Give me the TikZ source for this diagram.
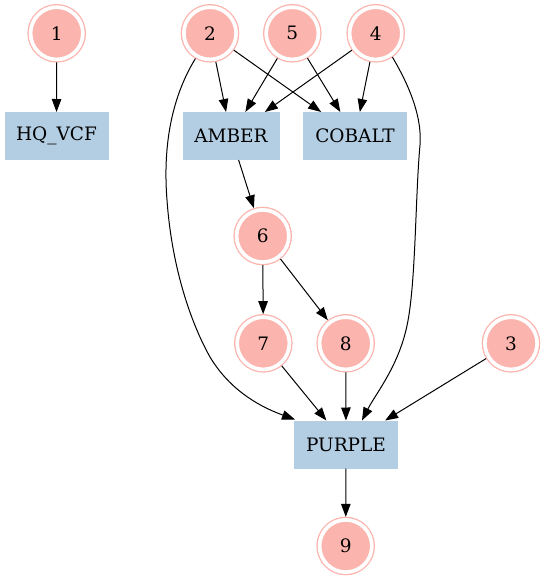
\documentclass[tikz,border=0pt]{standalone}
\usepackage{fontspec}
\setmainfont{DejaVu Serif}
\usetikzlibrary{arrows.meta}
\definecolor{salmon}{HTML}{FBB4AE}
\definecolor{pblue}{HTML}{B3CDE3}
\begin{document}
\begin{tikzpicture}[x=1pt,y=-1pt,
  every node/.style={font=\fontsize{18.5}{22}\selectfont},
  dc/.style={circle, minimum size=52.3pt, inner sep=0pt, outer sep=3pt,
    fill=salmon, draw=salmon, line width=1.3pt, double=white, double distance=3.7pt},
  bx/.style={rectangle, fill=pblue, minimum height=48pt, inner sep=0pt, outer sep=0pt},
  edge/.style={line width=1pt, -{Triangle[length=13pt,width=9.5pt]}}]
\useasboundingbox (0,0) rectangle (546,581);
\node[dc] (n1) at (56.7,33.3) {1};
\node[dc] (n2) at (210,33.3) {2};
\node[dc] (n5) at (292.3,33.3) {5};
\node[dc] (n4) at (375.7,33.3) {4};
\node[bx, minimum width=104pt] (hq) at (56.5,136) {HQ\_VCF};
\node[bx, minimum width=97pt] (amber) at (231,136) {AMBER};
\node[bx, minimum width=104pt] (cobalt) at (355,136) {COBALT};
\node[dc] (n6) at (262.7,236) {6};
\node[dc] (n7) at (263.3,343.3) {7};
\node[dc] (n8) at (345.7,343.3) {8};
\node[dc] (n3) at (511,343.3) {3};
\node[bx, minimum width=104pt] (purple) at (346,444.5) {PURPLE};
\node[dc] (n9) at (345.7,546) {9};

\draw[edge] (n1) -- (hq);
\draw[edge] (n2) -- (amber);
\draw[edge] (n2) -- (cobalt);
\draw[edge] (n5) -- (amber);
\draw[edge] (n5) -- (cobalt);
\draw[edge] (n4) -- (amber);
\draw[edge] (n4) -- (cobalt);
\draw[edge] (amber) -- (n6);
\draw[edge] (n6) -- (n7);
\draw[edge] (n6) -- (n8);
\draw[edge] (n7) -- (purple);
\draw[edge] (n8) -- (purple);
\draw[edge] (n3) -- (purple);
\draw[edge] (purple) -- (n9);
\draw[edge] (n2.240) .. controls (170,100) and (163,150) .. (167,200)
  .. controls (172,270) and (192,325) .. (210,357)
  .. controls (228,387) and (255,405) .. ([xshift=1pt,yshift=1pt]purple.north west);
\draw[edge] (n4.-55) .. controls (412,90) and (422,120) .. (420,145)
  .. controls (415,200) and (416,290) .. (406,330)
  .. controls (397,368) and (375,395) .. ([xshift=-36pt]purple.north east);
\end{tikzpicture}
\end{document}
